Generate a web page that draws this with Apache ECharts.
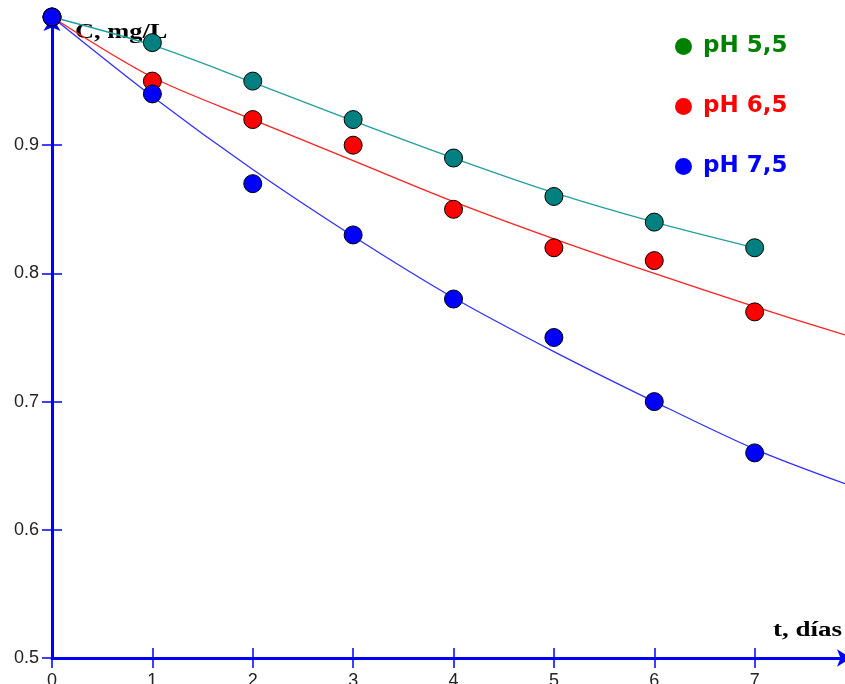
<!DOCTYPE html>
<html>
<head>
<meta charset="utf-8">
<script src="https://cdn.jsdelivr.net/npm/echarts@6/dist/echarts.min.js"></script>
<style>html,body{margin:0;padding:0;background:#fff}#c{width:845px;height:684px}</style>
</head>
<body>
<div id="c"></div>
<script>
// Measured points
const days = [0, 1, 2, 3, 4, 5, 6, 7];
const ph55 = [1.0, 0.98, 0.95, 0.92, 0.89, 0.86, 0.84, 0.82];
const ph65 = [1.0, 0.95, 0.92, 0.90, 0.85, 0.82, 0.81, 0.77];
const ph75 = [1.0, 0.94, 0.87, 0.83, 0.78, 0.75, 0.70, 0.66];
// Fitted curves
const fitX55 = [0, 1, 2, 3, 4, 5, 6, 7];
const fit55 = [1.0, 0.978, 0.949, 0.919, 0.89, 0.863, 0.84, 0.82];
const fitX = [0, 1, 2, 3, 4, 5, 6, 7, 7.9];
const fit65 = [1.0, 0.953, 0.92, 0.888, 0.856, 0.827, 0.80, 0.774, 0.752];
const fit75 = [1.0, 0.938, 0.881, 0.829, 0.781, 0.739, 0.70, 0.663, 0.636];
// Ticks
const xTicks = [0, 1, 2, 3, 4, 5, 6, 7];
const yTicks = [0.5, 0.6, 0.7, 0.8, 0.9];
const names = ['pH 5,5', 'pH 6,5', 'pH 7,5'];

const zip = (xs, ys) => ys.map((y, i) => [xs[i], y]);
const chart = echarts.init(document.getElementById('c'));
const axisBlue = '#0000ff';
const labelFont = {fontSize: 18, fontFamily: 'Liberation Sans', color: '#222'};
const gridBox = {left: 52, right: 0, top: 17, bottom: 26, containLabel: false, outerBoundsMode: 'none'};

const mkScatter = (name, data, color) => ({
  type: 'scatter', name, data: zip(days, data), symbolSize: 18, z: 5,
  itemStyle: {color, borderColor: '#000', borderWidth: 1, opacity: 1}
});
const mkLine = (name, xs, data, color) => ({
  type: 'line', name, data: zip(xs, data), smooth: 0.3, showSymbol: false, z: 3,
  lineStyle: {color, width: 1.3}, silent: true
});

chart.setOption({
  animation: false,
  grid: [Object.assign({}, gridBox), Object.assign({}, gridBox)],
  legend: {
    left: 670, top: 30, orient: 'vertical', itemGap: 37,
    itemWidth: 17, itemHeight: 17, icon: 'circle',
    textStyle: {fontSize: 23, fontWeight: 'bold', fontFamily: 'DejaVu Sans', lineHeight: 17, padding: [0, 0, 0, 6]},
    data: [
      {name: names[0], itemStyle: {color: '#008000', borderWidth: 0}, textStyle: {color: '#008000'}},
      {name: names[1], itemStyle: {color: '#ff0000', borderWidth: 0}, textStyle: {color: '#ff0000'}},
      {name: names[2], itemStyle: {color: '#0000ff', borderWidth: 0}, textStyle: {color: '#0000ff'}}
    ]
  },
  xAxis: [{
    gridIndex: 0, type: 'value', min: 0, max: 7.9, interval: 1,
    axisLine: {lineStyle: {color: axisBlue, width: 3}, symbol: ['none', 'arrow'], symbolSize: [13, 14], symbolOffset: [0, 6]},
    axisTick: {show: true, length: 10, lineStyle: {color: axisBlue, width: 1.5}, customValues: xTicks},
    axisLabel: Object.assign({margin: 14, customValues: xTicks, formatter: v => String(v)}, labelFont),
    splitLine: {show: false}
  }, {
    gridIndex: 1, type: 'value', min: 0, max: 7.9, position: 'bottom',
    axisLine: {show: false},
    axisTick: {show: true, inside: true, length: 10, lineStyle: {color: axisBlue, width: 1.5}, customValues: xTicks},
    axisLabel: {show: false}, splitLine: {show: false}
  }],
  yAxis: [{
    gridIndex: 0, type: 'value', min: 0.5, max: 1.0, interval: 0.1,
    axisLine: {show: true, lineStyle: {color: axisBlue, width: 3}, symbol: ['none', 'arrow'], symbolSize: [13, 14]},
    axisTick: {show: true, length: 10, lineStyle: {color: axisBlue, width: 1.5}, customValues: yTicks},
    axisLabel: Object.assign({margin: 13, customValues: yTicks, formatter: v => v.toFixed(1)}, labelFont),
    splitLine: {show: false}
  }, {
    gridIndex: 1, type: 'value', min: 0.5, max: 1.0, position: 'left',
    axisLine: {show: false},
    axisTick: {show: true, inside: true, length: 10, lineStyle: {color: axisBlue, width: 1.5}, customValues: yTicks},
    axisLabel: {show: false}, splitLine: {show: false}
  }],
  graphic: [
    {type: 'text', left: 75, top: 21, z: 2, scaleX: 1.2,
     style: {text: 'C, mg/L', font: 'bold 22px "Liberation Serif"', fill: '#000'}},
    {type: 'text', left: 773, top: 621, z: 2, scaleX: 1.35,
     style: {text: 't, días', font: 'bold 20px "Liberation Serif"', fill: '#000'}}
  ],
  series: [
    mkLine('fit 5,5', fitX55, fit55, '#229e9e'),
    mkLine('fit 6,5', fitX, fit65, '#ff2020'),
    mkLine('fit 7,5', fitX, fit75, '#3030ff'),
    mkScatter(names[0], ph55, '#008080'),
    mkScatter(names[1], ph65, '#ff0000'),
    mkScatter(names[2], ph75, '#0000ff')
  ]
});
</script>
</body>
</html>
